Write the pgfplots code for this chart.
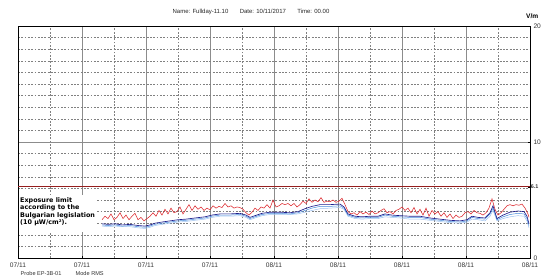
\documentclass[border=0pt]{standalone}
\usepackage{pgfplots}
\pgfplotsset{compat=1.18}
\usepackage{fontspec}
\setmainfont{Liberation Sans}
\newfontfamily\dv{DejaVu Sans}
\definecolor{limitred}{RGB}{150,30,30}
\definecolor{maxred}{RGB}{220,40,45}
\definecolor{avgblue}{RGB}{30,30,140}
\definecolor{lblue}{RGB}{70,140,220}
\definecolor{pblue}{RGB}{160,195,240}
\definecolor{gridgray}{RGB}{140,140,140}
\begin{document}
\begin{tikzpicture}[x=1pt,y=1pt]
\path[use as bounding box] (0,0) rectangle (541,276);
\begin{axis}[
  at={(18pt,18pt)}, anchor=south west,
  scale only axis, width=512pt, height=232pt,
  xmin=0, xmax=512, ymin=0, ymax=20,
  xtick={0,64,...,512},
  xticklabels={07/11,07/11,07/11,07/11,08/11,08/11,08/11,08/11,08/11},
  minor xtick={32,96,...,480},
  ytick={0,10,20},
  minor ytick={1,2,3,4,5,6,7,8,9,11,12,13,14,15,16,17,18,19},
  yticklabel pos=right,
  ytick pos=right,
  xtick pos=bottom,
  grid=both,
  major grid style={gridgray, line width=0.7pt},
  minor grid style={gray, line width=0.45pt, dash pattern=on 1.8pt off 1.5pt},
  tick style={black, line width=0.4pt},
  major tick length=2pt, minor tick length=0pt,
  axis line style={black, line width=0.8pt},
  tick label style={font=\fontsize{6.6}{7}\selectfont, text=black!80},
  xticklabel style={yshift=-1pt},
  /pgf/number format/assume math mode=true,
  extra y ticks={6.14}, extra y tick labels={\textbf{6.1}},
  extra y tick style={grid=none, yticklabel style={font=\fontsize{5.4}{6}\selectfont, inner sep=0.6pt}},
  clip=true,
]
\addplot[limitred, line width=0.9pt] coordinates {(0,6.14) (512,6.14)};
% pale blue
\addplot[pblue, line width=0.5pt] coordinates {
(84,2.75)(90,2.7)(97,2.75)(104,2.7)(112,2.7)(120,2.6)(127,2.55)(132,2.65)(137,2.8)(144,2.9)(152,3.0)(160,3.1)(168,3.15)(177,3.25)(187,3.35)(194,3.5)(202,3.6)(212,3.6)(222,3.65)(228,3.5)(232,3.3)(237,3.45)(244,3.65)(252,3.75)(262,3.75)(272,3.75)(280,3.8)(287,3.95)(294,4.1)(302,4.25)(312,4.3)(322,4.35)(326,4.2)(330,3.6)(337,3.4)(344,3.35)(352,3.4)(360,3.4)(367,3.55)(374,3.5)(382,3.45)(392,3.35)(402,3.35)(412,3.25)(422,3.15)(432,3.05)(442,3.0)(449,3.1)(454,3.35)(460,3.3)(467,3.2)(472,3.6)(475,4.1)(479,3.2)(485,3.4)(492,3.55)(500,3.65)(506,3.6)(509,3.2)(511,2.6)};
% light blue
\addplot[lblue, line width=0.5pt] coordinates {
(84,2.85)(90,2.8)(97,2.85)(104,2.75)(112,2.8)(120,2.7)(127,2.65)(132,2.75)(137,2.9)(144,3.0)(152,3.1)(160,3.2)(168,3.25)(177,3.35)(187,3.45)(194,3.6)(202,3.7)(212,3.7)(222,3.75)(228,3.6)(232,3.4)(237,3.55)(244,3.75)(252,3.85)(262,3.85)(272,3.8)(280,3.9)(287,4.1)(294,4.3)(302,4.45)(312,4.45)(322,4.5)(326,4.3)(330,3.7)(337,3.5)(344,3.45)(352,3.5)(360,3.5)(367,3.7)(374,3.6)(382,3.55)(392,3.5)(402,3.5)(412,3.35)(422,3.25)(432,3.15)(442,3.1)(449,3.2)(454,3.5)(460,3.4)(467,3.35)(472,3.8)(475,4.3)(479,3.3)(485,3.55)(492,3.75)(500,3.85)(506,3.8)(509,3.4)(511,2.8)};
% max (red)
\addplot[maxred, line width=0.55pt] coordinates {
(84,3.3)(87,3.6)(90,3.4)(93,3.8)(96,3.3)(99,3.5)(102,3.9)(105,3.4)(108,3.7)(111,3.3)(114,3.6)(117,3.85)(120,3.3)(123,3.5)(126,3.2)(129,3.4)(132,3.6)(135,3.9)(138,3.6)(141,4.1)(144,3.7)(147,4.2)(150,3.8)(153,4.3)(156,3.9)(159,4.0)(162,4.4)(165,3.8)(168,4.2)(171,4.6)(174,4.1)(177,4.5)(180,4.2)(183,4.4)(186,4.1)(189,4.3)(192,4.15)(195,4.5)(198,4.3)(201,4.45)(204,4.35)(207,4.7)(210,4.4)(213,4.5)(216,4.3)(219,4.4)(222,4.35)(225,4.2)(228,3.9)(231,3.7)(234,3.95)(237,4.3)(240,4.1)(243,4.4)(246,4.3)(249,4.6)(252,4.3)(255,5.0)(258,4.4)(261,4.5)(264,4.7)(267,4.6)(270,4.7)(273,4.5)(276,4.7)(279,4.4)(282,4.6)(285,4.9)(288,4.7)(291,5.1)(294,4.8)(297,5.0)(300,4.85)(303,5.2)(306,4.8)(309,4.9)(312,4.85)(315,5.0)(318,4.8)(321,4.9)(324,5.15)(327,4.6)(330,4.0)(333,3.8)(336,3.9)(339,3.7)(342,4.0)(345,3.8)(348,3.95)(351,3.75)(354,4.05)(357,3.8)(360,3.9)(363,4.1)(366,4.25)(369,3.9)(372,4.0)(375,3.8)(378,4.1)(381,4.2)(384,4.4)(387,4.1)(390,4.3)(393,3.9)(396,4.35)(399,3.8)(402,4.2)(405,3.7)(408,4.3)(411,3.6)(414,4.1)(417,3.8)(420,4.0)(423,3.6)(426,3.9)(429,3.5)(432,3.8)(435,3.4)(438,3.7)(441,3.5)(444,3.6)(447,3.9)(450,4.0)(453,3.8)(456,4.1)(459,3.9)(462,3.85)(465,3.7)(468,3.9)(471,4.3)(474,5.1)(477,4.2)(480,3.7)(483,3.9)(486,4.2)(489,4.5)(492,4.6)(495,4.5)(498,4.6)(501,4.55)(504,4.65)(507,4.3)(510,3.8)(511,3.5)};
% average (dark blue)
\addplot[avgblue, line width=0.65pt] coordinates {
(84,2.95)(90,2.9)(97,2.95)(104,2.85)(112,2.9)(120,2.8)(127,2.75)(132,2.85)(137,3.0)(144,3.1)(152,3.2)(160,3.3)(168,3.35)(177,3.45)(187,3.55)(194,3.7)(202,3.8)(212,3.8)(222,3.85)(228,3.7)(232,3.5)(237,3.65)(244,3.85)(252,3.95)(262,3.95)(272,3.9)(280,4.0)(287,4.25)(294,4.45)(302,4.6)(312,4.6)(322,4.65)(326,4.4)(330,3.8)(337,3.6)(344,3.55)(352,3.6)(360,3.6)(367,3.8)(374,3.7)(382,3.65)(392,3.6)(402,3.6)(412,3.45)(422,3.35)(432,3.25)(442,3.2)(449,3.3)(454,3.6)(460,3.5)(467,3.45)(472,3.9)(475,4.5)(479,3.4)(485,3.7)(492,3.95)(500,4.05)(506,4.0)(509,3.6)(511,2.95)};
\end{axis}
\fill[white] (18.6,44) rectangle (97,81);
\node[font=\fontsize{6}{7}\selectfont, text=black!85] at (251,264) {Name: Fullday-11.10\hspace{1.9em}Date: 10/11/2017\hspace{1.9em}Time: 00.00};
\node[font=\fontsize{6.6}{7}\bfseries, anchor=west, inner sep=0pt] at (526,260) {V/m};
\node[font=\dv\fontsize{6.4}{7.6}\bfseries\selectfont, anchor=north west, align=left, inner sep=0pt] at (20,79) {Exposure limit\\according to the\\Bulgarian legislation\\(10 µW/cm²).};
\node[font=\fontsize{5.6}{6}\selectfont, anchor=south west, text=black!80, inner sep=0.5pt] at (20,0) {Probe EP-3B-01};
\node[font=\fontsize{5.6}{6}\selectfont, anchor=south west, text=black!80, inner sep=0.5pt] at (75,0) {Mode RMS};
\end{tikzpicture}
\end{document}
